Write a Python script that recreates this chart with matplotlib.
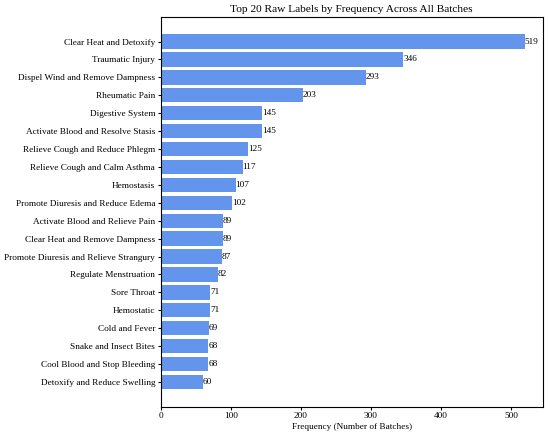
import matplotlib
matplotlib.use("Agg")
import matplotlib.pyplot as plt

labels = [
    "Clear Heat and Detoxify",
    "Traumatic Injury",
    "Dispel Wind and Remove Dampness",
    "Rheumatic Pain",
    "Digestive System",
    "Activate Blood and Resolve Stasis",
    "Relieve Cough and Reduce Phlegm",
    "Relieve Cough and Calm Asthma",
    "Hemostasis",
    "Promote Diuresis and Reduce Edema",
    "Activate Blood and Relieve Pain",
    "Clear Heat and Remove Dampness",
    "Promote Diuresis and Relieve Strangury",
    "Regulate Menstruation",
    "Sore Throat",
    "Hemostatic",
    "Cold and Fever",
    "Snake and Insect Bites",
    "Cool Blood and Stop Bleeding",
    "Detoxify and Reduce Swelling",
]
counts = [519, 346, 293, 203, 145, 145, 125, 117, 107, 102,
          89, 89, 87, 82, 71, 71, 69, 68, 68, 60]

plt.rcParams['font.family'] = ['Liberation Serif', 'DejaVu Serif']

fig, ax = plt.subplots(figsize=(5.5, 4.37), dpi=100)
bars = ax.barh(labels, counts, color='#6495ED')
ax.invert_yaxis()
for b, v in zip(bars, counts):
    ax.text(b.get_width(), b.get_y() + b.get_height() / 2, str(v),
            va='center', ha='left', fontsize=6.7)

ax.set_title("Top 20 Raw Labels by Frequency Across All Batches", fontsize=8.2, pad=3)
ax.set_xlabel("Frequency (Number of Batches)", fontsize=6.7, labelpad=2)
ax.tick_params(labelsize=6.7, length=2.3, pad=1.6)
ax.set_xlim(0, 545)

plt.subplots_adjust(left=0.292, right=0.987, top=0.962, bottom=0.069)
plt.savefig("out.png", dpi=100)
